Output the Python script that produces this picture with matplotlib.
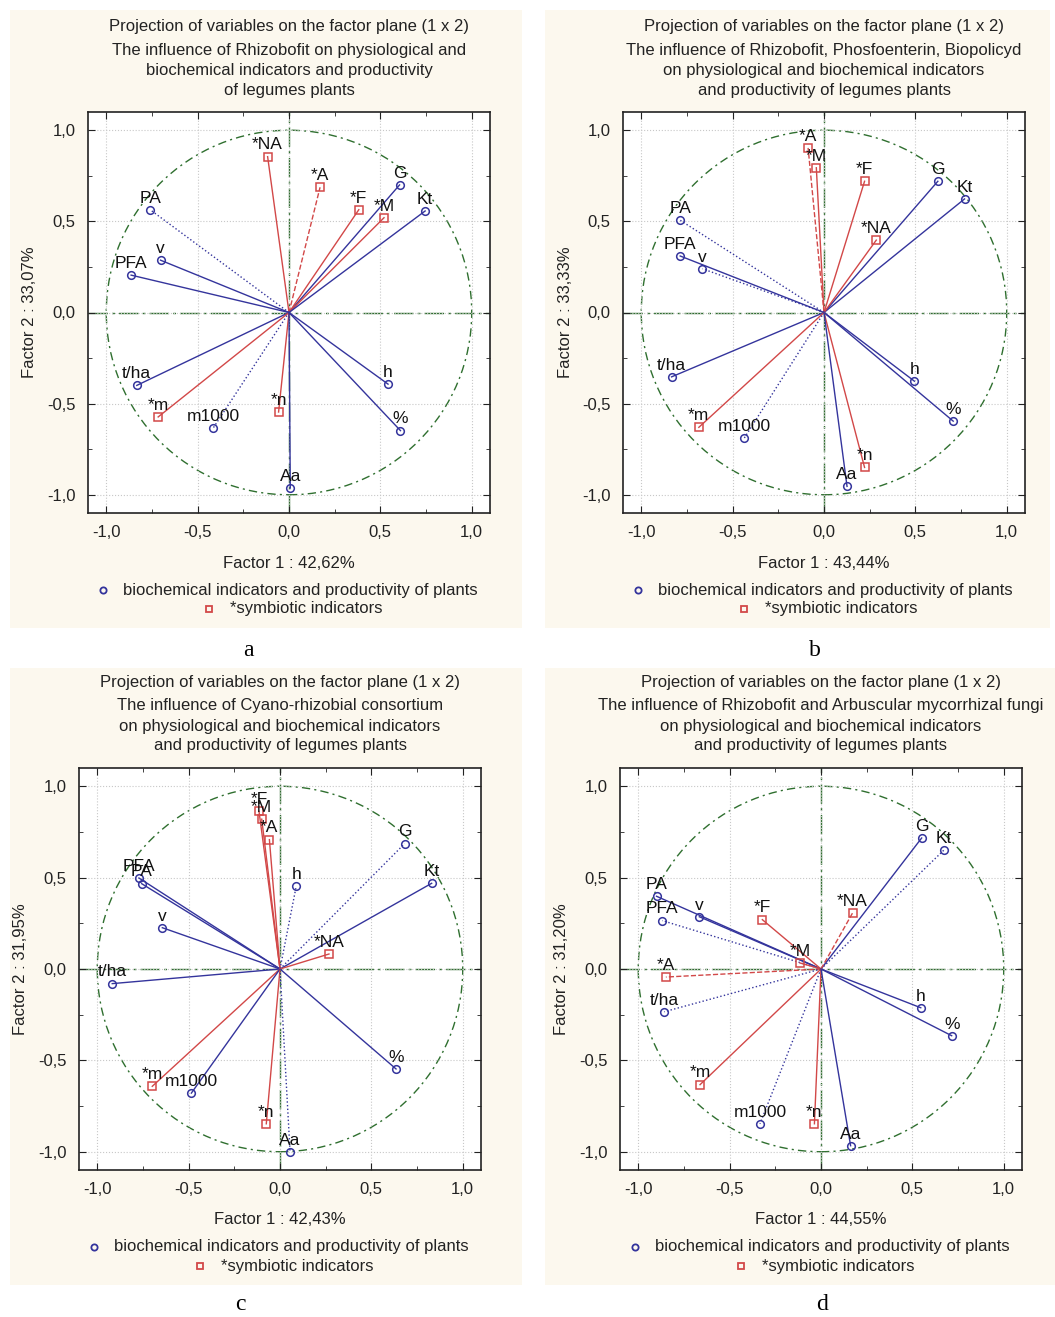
import matplotlib
matplotlib.use('Agg')
import matplotlib.pyplot as plt
from matplotlib.patches import Rectangle, Circle
from matplotlib.ticker import MultipleLocator, FuncFormatter

W, H = 1055, 1317
plt.rcParams['font.family'] = ['Liberation Sans', 'DejaVu Sans']
plt.rcParams['font.size'] = 12

# ---- data (factor loadings) ----
# panel a: Rhizobofit
a_names = ['*NA', '*A', 'G', '*F', '*M', 'Kt', 'PA', 'v', 'PFA', 't/ha', '*m', 'm1000', '*n', 'h', '%', 'Aa']
a_x = [-0.117, 0.17, 0.605, 0.382, 0.52, 0.745, -0.76, -0.703, -0.864, -0.833, -0.716, -0.415, -0.057, 0.542, 0.61, 0.007]
a_y = [0.855, 0.687, 0.70, 0.564, 0.52, 0.557, 0.564, 0.287, 0.205, -0.40, -0.573, -0.634, -0.546, -0.393, -0.648, -0.963]
a_ls = ['-', '--', '-', '-', '-', '-', ':', '-', '-', '-', '-', ':', '-', '-', '-', '-']

# panel b: Rhizobofit, Phosfoenterin, Biopolicyd
b_names = ['*A', '*M', '*F', 'G', 'Kt', '*NA', 'PA', 'PFA', 'v', 't/ha', '*m', 'm1000', 'h', '%', '*n', 'Aa']
b_x = [-0.087, -0.042, 0.222, 0.623, 0.769, 0.286, -0.787, -0.787, -0.665, -0.834, -0.685, -0.437, 0.495, 0.707, 0.222, 0.126]
b_y = [0.903, 0.794, 0.72, 0.72, 0.623, 0.397, 0.506, 0.31, 0.24, -0.353, -0.63, -0.69, -0.377, -0.596, -0.85, -0.954]
b_ls = ['--', '-', '-', '-', '-', '-', ':', '-', ':', '-', '-', ':', '-', '-', '-', '-']

# panel c: Cyano-rhizobial consortium
c_names = ['*F', '*M', '*A', 'G', 'Kt', 'h', 'PFA', 'PA', 'v', '*NA', 't/ha', '%', '*m', 'm1000', '*n', 'Aa']
c_x = [-0.115, -0.10, -0.058, 0.682, 0.83, 0.089, -0.772, -0.757, -0.644, 0.268, -0.918, 0.635, -0.699, -0.485, -0.075, 0.055]
c_y = [0.863, 0.82, 0.708, 0.686, 0.469, 0.454, 0.498, 0.467, 0.226, 0.082, -0.08, -0.547, -0.642, -0.679, -0.847, -1.0]
c_ls = ['-', '-', '-', ':', '-', ':', '-', '-', '-', '-', '-', '-', '-', '-', '-', ':']

# panel d: Rhizobofit and Arbuscular mycorrhizal fungi
d_names = ['G', 'Kt', 'PA', 'v', 'PFA', '*F', '*NA', '*M', '*A', 't/ha', 'h', '%', '*m', 'm1000', '*n', 'Aa']
d_x = [0.551, 0.673, -0.90, -0.666, -0.869, -0.321, 0.173, -0.115, -0.849, -0.858, 0.546, 0.715, -0.662, -0.334, -0.036, 0.162]
d_y = [0.717, 0.651, 0.398, 0.286, 0.265, 0.27, 0.307, 0.033, -0.044, -0.234, -0.212, -0.365, -0.633, -0.847, -0.847, -0.967]
d_ls = ['-', ':', '-', '-', ':', '-', '--', '-', '--', ':', '-', '-', '-', ':', '-', '-']

titles = [
    ['The influence of Rhizobofit on physiological and', 'biochemical indicators and productivity', 'of legumes plants'],
    ['The influence of Rhizobofit, Phosfoenterin, Biopolicyd', 'on physiological and biochemical indicators', 'and productivity of legumes plants'],
    ['The influence of Cyano-rhizobial consortium', 'on physiological and biochemical indicators', 'and productivity of legumes plants'],
    ['The influence of Rhizobofit and Arbuscular mycorrhizal fungi', 'on physiological and biochemical indicators', 'and productivity of legumes plants'],
]
factor1 = ['42,62%', '43,44%', '42,43%', '44,55%']
factor2 = ['33,07%', '33,33%', '31,95%', '31,20%']
letters = ['a', 'b', 'c', 'd']

BLUE = '#34349c'
RED = '#d24848'
GREEN = '#2f6f2f'
BG = '#fcf8ee'

# panel geometry in pixels: background box, axes box (left, top, right, bottom)
bg_boxes = [(10, 10, 522, 628), (545, 10, 1050, 628), (10, 668, 522, 1285), (545, 668, 1055, 1285)]
ax_boxes = [(88, 112, 490, 513), (623, 112, 1025, 513), (79, 768, 481, 1170), (620, 768, 1022, 1170)]
letter_pos = [(248, 650), (815, 650), (240, 1305), (822, 1305)]

panels = [(a_names, a_x, a_y, a_ls), (b_names, b_x, b_y, b_ls),
          (c_names, c_x, c_y, c_ls), (d_names, d_x, d_y, d_ls)]

fig = plt.figure(figsize=(W / 100, H / 100), dpi=100)


def fx(px):
    return px / W


def fy(py):
    return 1 - py / H


comma = FuncFormatter(lambda v, p: ('%.1f' % v).replace('.', ','))

for i, (names, xs, ys, styles) in enumerate(panels):
    x0, y0, x1, y1 = bg_boxes[i]
    fig.patches.append(Rectangle((fx(x0), fy(y1)), (x1 - x0) / W, (y1 - y0) / H,
                                 transform=fig.transFigure, facecolor=BG, edgecolor='none', zorder=-10))
    l, t, r, b = ax_boxes[i]
    ax = fig.add_axes([fx(l), fy(b), (r - l) / W, (b - t) / H])
    ax.set_zorder(2)
    ax.set_facecolor('white')
    ax.set_xlim(-1.1, 1.1)
    ax.set_ylim(-1.1, 1.1)
    ax.xaxis.set_major_locator(MultipleLocator(0.5))
    ax.yaxis.set_major_locator(MultipleLocator(0.5))
    ax.xaxis.set_minor_locator(MultipleLocator(0.25))
    ax.yaxis.set_minor_locator(MultipleLocator(0.25))
    ax.xaxis.set_major_formatter(comma)
    ax.yaxis.set_major_formatter(comma)
    ax.tick_params(which='both', direction='in', top=True, right=True, labelsize=12, colors='#222222')
    ax.tick_params(which='major', length=5, pad=9)
    ax.tick_params(which='minor', length=3)
    ax.grid(True, which='major', color='#c8c8c8', linestyle=':', linewidth=0.8)
    for sp in ax.spines.values():
        sp.set_linewidth(1.2)
        sp.set_color('#222222')

    # zero axes and unit circle
    ax.axhline(0, color=GREEN, lw=1, ls=(0, (14, 3, 2, 3)), zorder=1)
    ax.axvline(0, color=GREEN, lw=1, ls=(0, (14, 3, 2, 3)), zorder=1)
    ax.add_patch(Circle((0, 0), 1.0, fill=False, edgecolor=GREEN, lw=1, ls=(0, (6, 3, 1.5, 3)), zorder=1))

    for name, xv, yv, ls in zip(names, xs, ys, styles):
        sym = name.startswith('*')
        col = RED if sym else BLUE
        ax.plot([0, xv], [0, yv], color=col, lw=1.0, ls=ls, zorder=2)
        ax.plot(xv, yv, marker='s' if sym else 'o', ms=5.5, mfc='none',
                mec=col, mew=1.1, ls='none', zorder=3)
        ax.annotate(name, (xv, yv), xytext=(0, 3), textcoords='offset points',
                    ha='center', va='bottom', fontsize=12.5, color='#111111', zorder=4,
                    annotation_clip=False)

    cx = (l + r) / 2
    fig.text(fx(cx), fy(t - 86), 'Projection of variables on the factor plane (1 x 2)',
             ha='center', va='center', fontsize=12, color='#222222')
    for k, line in enumerate(titles[i]):
        fig.text(fx(cx), fy(t - 62 + 20 * k), line, ha='center', va='center', fontsize=12, color='#222222')

    fig.text(fx(l - 58), fy((t + b) / 2), 'Factor 2 : ' + factor2[i], rotation=90,
             ha='center', va='center', fontsize=12, color='#222222')
    fig.text(fx(cx), fy(b + 50), 'Factor 1 : ' + factor1[i], ha='center', va='center',
             fontsize=12, color='#222222')

    # legend rows
    fig.add_artist(plt.Line2D([fx(l + 15)], [fy(b + 77)], marker='o', ms=4.5, mfc='none',
                              mec=BLUE, mew=1.3, ls='none', transform=fig.transFigure))
    fig.text(fx(l + 35), fy(b + 77), 'biochemical indicators and productivity of plants',
             ha='left', va='center', fontsize=12, color='#222222')
    fig.add_artist(plt.Line2D([fx(l + 121)], [fy(b + 96)], marker='s', ms=4.5, mfc='none',
                              mec=RED, mew=1.3, ls='none', transform=fig.transFigure))
    fig.text(fx(l + 142), fy(b + 96), '*symbiotic indicators',
             ha='left', va='center', fontsize=12, color='#222222')

    lx, ly = letter_pos[i]
    fig.text(fx(lx), fy(ly), letters[i], ha='center', va='center', fontsize=17,
             family='Liberation Serif', color='black')

fig.savefig('out.png', dpi=100, facecolor='white')
